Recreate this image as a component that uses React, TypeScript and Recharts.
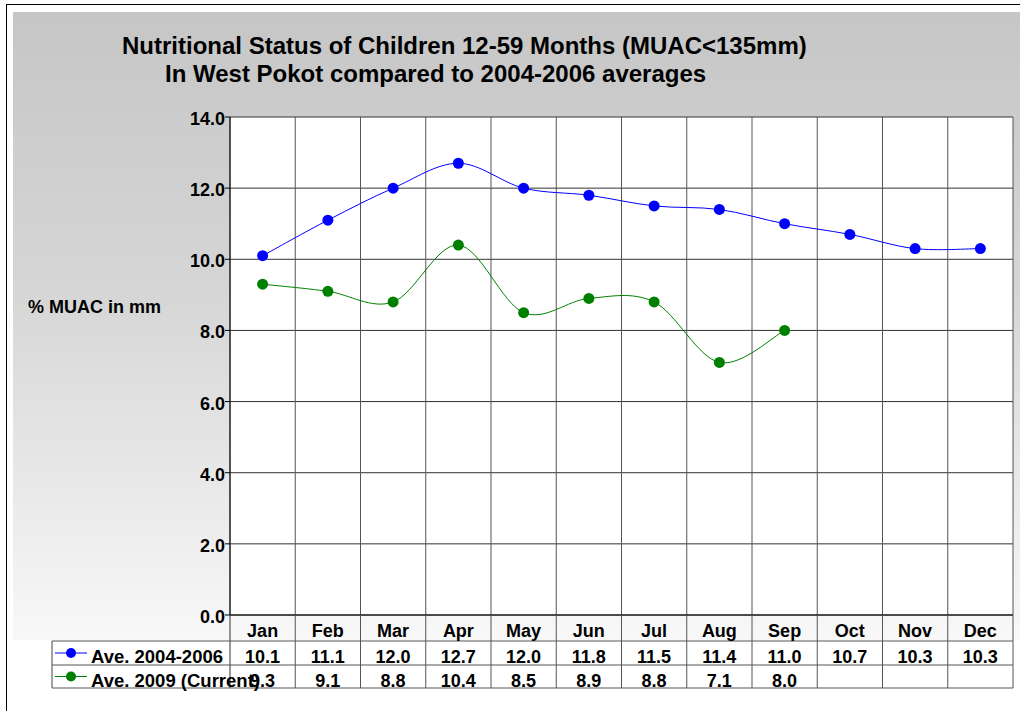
import React from 'react';
import { LineChart, Line, XAxis, YAxis, CartesianGrid } from 'recharts';

// Chart data
const months = ['Jan', 'Feb', 'Mar', 'Apr', 'May', 'Jun', 'Jul', 'Aug', 'Sep', 'Oct', 'Nov', 'Dec'];
const avg20042006 = [10.1, 11.1, 12.0, 12.7, 12.0, 11.8, 11.5, 11.4, 11.0, 10.7, 10.3, 10.3];
const avg2009 = [9.3, 9.1, 8.8, 10.4, 8.5, 8.9, 8.8, 7.1, 8.0, null, null, null];
const yTicks = [0, 2, 4, 6, 8, 10, 12, 14];

const seriesNames = ['Ave. 2004-2006', 'Ave. 2009 (Current)'];
const seriesColors = ['#0000ff', '#008000'];

const FONT = '"Liberation Sans", Arial, sans-serif';

// layout of the plot and the data table below it
const W = 1020;
const H = 711;
const PLOT_LEFT = 230;
const PLOT_RIGHT = 1013;
const PLOT_TOP = 117;
const PLOT_BOTTOM = 615;
const BAND = (PLOT_RIGHT - PLOT_LEFT) / months.length;
const TABLE_LEFT = 52;
const ROW_LINES = [641, 665, 688];
const BASELINES = [637, 663, 687];

const data = months.map((m, i) => ({ month: m, a: avg20042006[i], b: avg2009[i] }));

// Excel style smoothed line (cardinal spline, tension 0)
const smoothCurve = (context: any) => {
    let pts: number[][] = [];
    return {
        areaStart() {},
        areaEnd() {},
        lineStart() { pts = []; },
        lineEnd() {
            const n = pts.length;
            if (!n) return;
            context.moveTo(pts[0][0], pts[0][1]);
            for (let i = 0; i < n - 1; i++) {
                const p0 = pts[Math.max(i - 1, 0)];
                const p1 = pts[i];
                const p2 = pts[i + 1];
                const p3 = pts[Math.min(i + 2, n - 1)];
                context.bezierCurveTo(
                    p1[0] + (p2[0] - p0[0]) / 6, p1[1] + (p2[1] - p0[1]) / 6,
                    p2[0] - (p3[0] - p1[0]) / 6, p2[1] - (p3[1] - p1[1]) / 6,
                    p2[0], p2[1]
                );
            }
        },
        point(x: number, y: number) { pts.push([+x, +y]); },
    };
};

const textStyle = { fontFamily: FONT, fontWeight: 'bold' as const, fontSize: 18, fill: '#000' };

const YTick = ({ x, y, payload }: any) => (
    <text x={x} y={y + 8} textAnchor="end" style={textStyle}>
        {Number(payload.value).toFixed(1)}
    </text>
);

// x tick draws the month and its column of the data table
const TableTick = ({ x, index }: any) => {
    const i = index;
    const right = x + BAND / 2;
    const v2 = avg2009[i];
    return (
        <g>
            <text x={x} y={BASELINES[0]} textAnchor="middle" style={textStyle}>{months[i]}</text>
            <line x1={right} x2={right} y1={PLOT_BOTTOM} y2={ROW_LINES[2]} stroke="#555" />
            {i === 0 && (
                <g>
                    <line x1={PLOT_LEFT} x2={PLOT_LEFT} y1={PLOT_BOTTOM} y2={ROW_LINES[2]} stroke="#333" />
                    <line x1={TABLE_LEFT} x2={TABLE_LEFT} y1={ROW_LINES[0]} y2={ROW_LINES[2]} stroke="#444" />
                    {ROW_LINES.map((ly) => (
                        <line key={ly} x1={TABLE_LEFT} x2={PLOT_RIGHT} y1={ly} y2={ly} stroke="#555" />
                    ))}
                    {seriesNames.map((name, k) => {
                        const cy = (ROW_LINES[k] + ROW_LINES[k + 1]) / 2;
                        return (
                            <g key={name}>
                                <line x1={55} x2={87} y1={cy} y2={cy} stroke={seriesColors[k]} />
                                <circle cx={71} cy={cy} r={5} fill={seriesColors[k]} />
                                <text x={91} y={BASELINES[k + 1]} style={{ ...textStyle, fontSize: 18.5 }}>{name}</text>
                            </g>
                        );
                    })}
                </g>
            )}
            <text x={x} y={BASELINES[1]} textAnchor="middle" style={textStyle}>{avg20042006[i].toFixed(1)}</text>
            {v2 != null && (
                <text x={x} y={BASELINES[2]} textAnchor="middle" style={textStyle}>{v2.toFixed(1)}</text>
            )}
        </g>
    );
};

const bandLines = ({ offset }: any) =>
    months.map((_, i) => offset.left + i * (offset.width / months.length)).concat(offset.left + offset.width);

export default function App() {
    return (
        <div style={{ position: 'absolute', left: 0, top: 0, width: W, height: H, background: '#fff', overflow: 'hidden', fontFamily: FONT }}>
            <div style={{ position: 'absolute', left: 6, top: 4, width: W, height: H, borderLeft: '1px solid #000', borderTop: '1px solid #000' }} />
            <div style={{ position: 'absolute', left: 13, top: 12, width: W - 13, height: 628, background: 'linear-gradient(#c6c6c6 0%, #d6d6d6 45%, #f8f8f8 100%)' }} />
            <div style={{ position: 'absolute', left: 122, top: 32, fontSize: 24, lineHeight: '28px', fontWeight: 'bold', whiteSpace: 'nowrap' }}>
                Nutritional Status of Children 12-59 Months (MUAC&lt;135mm)
            </div>
            <div style={{ position: 'absolute', left: 165, top: 60, fontSize: 24, lineHeight: '28px', fontWeight: 'bold', whiteSpace: 'nowrap' }}>
                In West Pokot compared to 2004-2006 averages
            </div>
            <div style={{ position: 'absolute', left: 28, top: 297, fontSize: 18, lineHeight: '20px', fontWeight: 'bold', whiteSpace: 'nowrap' }}>
                % MUAC in mm
            </div>
            <div style={{ position: 'absolute', left: 0, top: 0 }}>
                <LineChart
                    width={W}
                    height={H}
                    data={data}
                    margin={{ top: PLOT_TOP, right: W - PLOT_RIGHT, left: PLOT_LEFT - 60, bottom: H - PLOT_BOTTOM - 30 }}
                >
                    <CartesianGrid vertical={false} stroke="#333" fill="#fff" />
                    <CartesianGrid horizontal={false} stroke="#555" verticalCoordinatesGenerator={bandLines} />
                    <XAxis
                        dataKey="month"
                        height={30}
                        interval={0}
                        padding={{ left: BAND / 2, right: BAND / 2 }}
                        tickLine={false}
                        axisLine={{ stroke: '#000' }}
                        tick={<TableTick />}
                    />
                    <YAxis
                        width={60}
                        domain={[0, 14]}
                        ticks={yTicks}
                        interval={0}
                        tickSize={5}
                        tickMargin={0}
                        tickLine={{ stroke: '#000' }}
                        axisLine={{ stroke: '#000' }}
                        tick={<YTick />}
                    />
                    <Line
                        dataKey="a"
                        type={smoothCurve as any}
                        stroke={seriesColors[0]}
                        strokeWidth={1}
                        dot={{ r: 5.5, fill: seriesColors[0], stroke: 'none' }}
                        activeDot={false}
                        isAnimationActive={false}
                    />
                    <Line
                        dataKey="b"
                        type={smoothCurve as any}
                        stroke={seriesColors[1]}
                        strokeWidth={1}
                        dot={{ r: 5.5, fill: seriesColors[1], stroke: 'none' }}
                        activeDot={false}
                        isAnimationActive={false}
                    />
                </LineChart>
            </div>
        </div>
    );
}
